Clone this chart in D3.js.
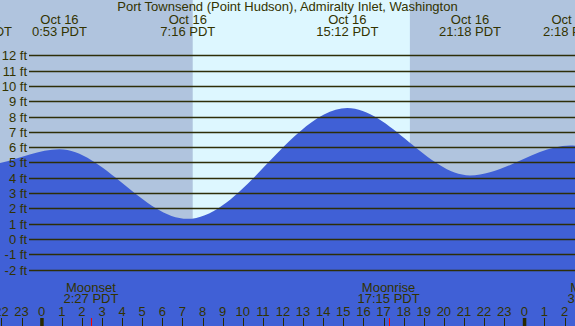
<!DOCTYPE html>
<html><head><meta charset="utf-8">
<script src="https://cdn.jsdelivr.net/npm/d3@7"></script>
<style>html,body{margin:0;padding:0;background:#b0c4de;}svg{display:block;}</style>
</head><body>
<svg id="c" width="575" height="326"></svg>
<script>
const title = "Port Townsend (Point Hudson), Admiralty Inlet, Washington";
// hours relative to Oct 16 00:00 PDT
const tideTimes   = [-9.6, -3.02, 0.883, 7.267, 15.2, 21.3, 26.3, 32.3];
const tideHeights = [8.3, 4.8, 5.87, 1.32, 8.55, 4.15, 6.1, 1.0];
const tideDates   = ["Oct 15", "Oct 15", "Oct 16", "Oct 16", "Oct 16", "Oct 16", "Oct 17", "Oct 17"];
const tideLabels  = ["14:36 PDT", "20:59 PDT", "0:53 PDT", "7:16 PDT", "15:12 PDT", "21:18 PDT", "2:18 PDT", "8:18 PDT"];
const sunTimes    = [7.51, 18.31];           // sunrise, sunset
const moonTimes   = [2.45, 17.25, 27.52];
const moonEvents  = ["Moonset", "Moonrise", "Moonset"];
const moonLabels  = ["2:27 PDT", "17:15 PDT", "3:31 PDT"];
const feetTicks   = [-2, -1, 0, 1, 2, 3, 4, 5, 6, 7, 8, 9, 10, 11, 12];
const hourTicks   = [-2, -1, 0, 1, 2, 3, 4, 5, 6, 7, 8, 9, 10, 11, 12, 13, 14, 15, 16, 17, 18, 19, 20, 21, 22, 23, 24, 25, 26];

const W = 575, H = 326;
const svg = d3.select("#c");
const x = d3.scaleLinear().domain([0, 24]).range([41.7, 524.3]);
const y = d3.scaleLinear().domain([0, 12]).range([239, 55.3]);
const txt = "#333300";
const font = "'Liberation Sans', Arial, sans-serif";

// backgrounds
svg.append("rect").attr("x", 0).attr("y", 0).attr("width", W).attr("height", H).attr("fill", "#b0c4de");
svg.append("rect").attr("x", x(sunTimes[0])).attr("y", 0)
  .attr("width", x(sunTimes[1]) - x(sunTimes[0])).attr("height", H).attr("fill", "#ddf7ff");

// tide area
const pts = tideTimes.map((t, i) => [t, tideHeights[i]]);
const area = d3.area().x(d => x(d[0])).y0(H).y1(d => y(d[1])).curve(d3.curveMonotoneX);
svg.append("path").datum(pts).attr("d", area).attr("fill", "#4060d6");

// grid lines & labels
const g = svg.append("g");
feetTicks.forEach(f => {
  const yy = Math.round(y(f)) + 0.5;
  g.append("line").attr("x1", 29).attr("x2", W).attr("y1", yy).attr("y2", yy)
    .attr("stroke", "#2e2e08").attr("stroke-width", 1.4);
  g.append("text").attr("x", 27).attr("y", yy + 4.5).attr("text-anchor", "end")
    .attr("font-family", font).attr("font-size", 13).attr("fill", txt).text(f + " ft");
});

// title
svg.append("text").attr("x", W / 2).attr("y", 11).attr("text-anchor", "middle")
  .attr("font-family", font).attr("font-size", 13).attr("fill", txt).text(title);

// tide extreme labels
tideTimes.forEach((t, i) => {
  const xx = x(t);
  svg.append("text").attr("x", xx).attr("y", 24).attr("text-anchor", "middle")
    .attr("font-family", font).attr("font-size", 13).attr("fill", txt).text(tideDates[i]);
  svg.append("text").attr("x", xx).attr("y", 36).attr("text-anchor", "middle")
    .attr("font-family", font).attr("font-size", 13).attr("fill", txt).text(tideLabels[i]);
});

// moon labels
moonTimes.forEach((t, i) => {
  const xx = x(t);
  svg.append("text").attr("x", xx).attr("y", 291.5).attr("text-anchor", "middle")
    .attr("font-family", font).attr("font-size", 13).attr("fill", txt).text(moonEvents[i]);
  svg.append("text").attr("x", xx).attr("y", 303).attr("text-anchor", "middle")
    .attr("font-family", font).attr("font-size", 13).attr("fill", txt).text(moonLabels[i]);
  svg.append("line").attr("x1", Math.round(xx) + 0.5).attr("x2", Math.round(xx) + 0.5)
    .attr("y1", 318).attr("y2", H).attr("stroke", "#ff0000").attr("stroke-width", 1);
});

// hour axis
hourTicks.forEach(h => {
  const xx = x(h);
  const midnight = ((h % 24) + 24) % 24 === 0;
  svg.append("text").attr("x", xx).attr("y", 315.5).attr("text-anchor", "middle")
    .attr("font-family", font).attr("font-size", 13).attr("fill", txt).text(((h % 24) + 24) % 24);
  if (midnight) {
    svg.append("rect").attr("x", xx - 1.5).attr("y", 318).attr("width", 3.5).attr("height", H - 318).attr("fill", "#2a2a00");
  } else {
    svg.append("line").attr("x1", Math.round(xx) + 0.5).attr("x2", Math.round(xx) + 0.5)
      .attr("y1", 318).attr("y2", H).attr("stroke", "#2a2a00").attr("stroke-width", 1);
  }
});
</script>
</body></html>
